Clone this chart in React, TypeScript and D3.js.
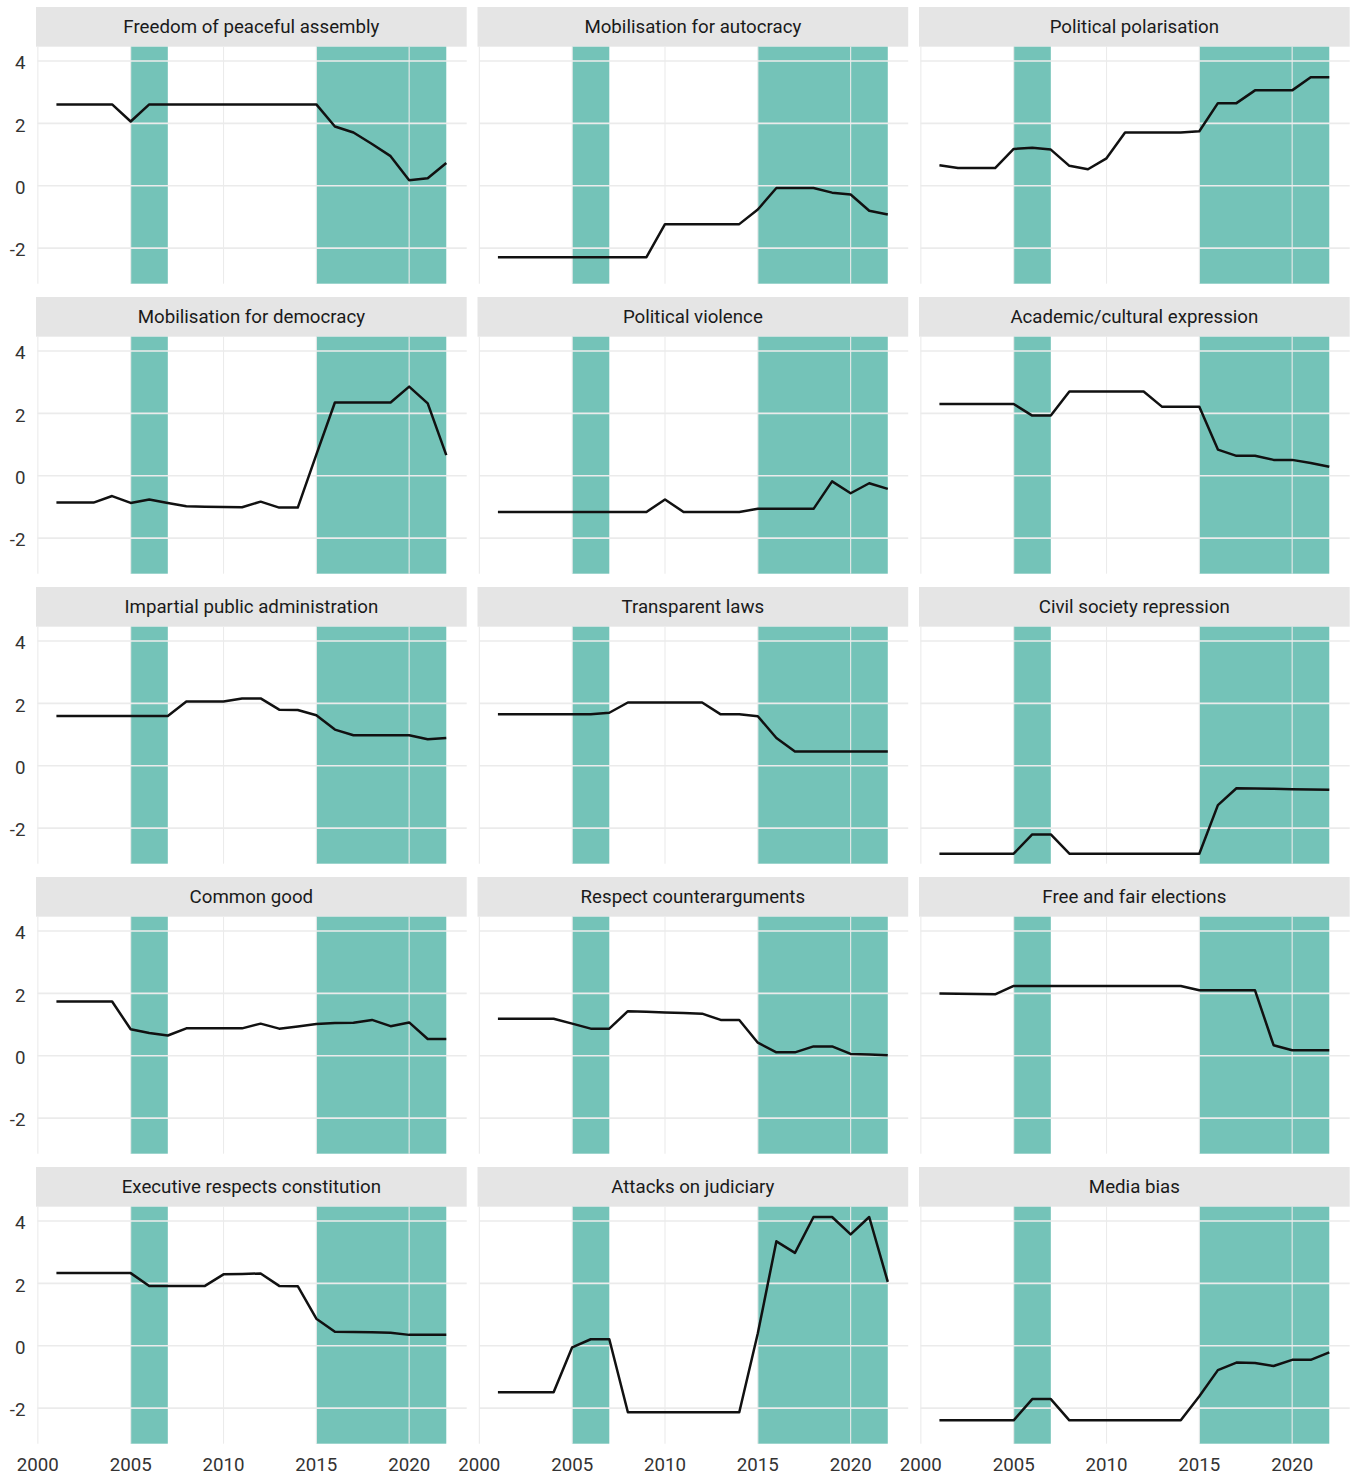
import React from 'react';
import * as d3 from 'd3';

const YEARS = [2001, 2002, 2003, 2004, 2005, 2006, 2007, 2008, 2009, 2010, 2011, 2012, 2013, 2014, 2015, 2016, 2017, 2018, 2019, 2020, 2021, 2022];

const PANEL_TITLES = [
  'Freedom of peaceful assembly', 'Mobilisation for autocracy', 'Political polarisation',
  'Mobilisation for democracy', 'Political violence', 'Academic/cultural expression',
  'Impartial public administration', 'Transparent laws', 'Civil society repression',
  'Common good', 'Respect counterarguments', 'Free and fair elections',
  'Executive respects constitution', 'Attacks on judiciary', 'Media bias',
];

const freedomAssembly = [2.61, 2.61, 2.61, 2.61, 2.06, 2.61, 2.61, 2.61, 2.61, 2.61, 2.61, 2.61, 2.61, 2.61, 2.61, 1.90, 1.71, 1.34, 0.95, 0.18, 0.24, 0.73];
const mobAutocracy = [-2.29, -2.29, -2.29, -2.29, -2.29, -2.29, -2.29, -2.29, -2.29, -1.23, -1.23, -1.23, -1.23, -1.23, -0.76, -0.07, -0.07, -0.07, -0.22, -0.28, -0.80, -0.92];
const polarisation = [0.66, 0.57, 0.57, 0.57, 1.18, 1.22, 1.16, 0.64, 0.53, 0.88, 1.71, 1.71, 1.71, 1.71, 1.75, 2.65, 2.65, 3.06, 3.06, 3.06, 3.48, 3.48];
const mobDemocracy = [-0.86, -0.86, -0.86, -0.65, -0.87, -0.76, -0.87, -0.98, -0.99, -1.00, -1.01, -0.83, -1.02, -1.02, 0.68, 2.35, 2.35, 2.35, 2.35, 2.86, 2.32, 0.66];
const politicalViolence = [-1.16, -1.16, -1.16, -1.16, -1.16, -1.16, -1.16, -1.16, -1.16, -0.76, -1.16, -1.16, -1.16, -1.16, -1.06, -1.06, -1.06, -1.06, -0.18, -0.56, -0.24, -0.42];
const academicExpression = [2.30, 2.30, 2.30, 2.30, 2.30, 1.93, 1.93, 2.70, 2.70, 2.70, 2.70, 2.70, 2.21, 2.21, 2.21, 0.84, 0.64, 0.64, 0.51, 0.51, 0.41, 0.29];
const impartialAdmin = [1.60, 1.60, 1.60, 1.60, 1.60, 1.60, 1.60, 2.06, 2.06, 2.06, 2.16, 2.16, 1.80, 1.79, 1.62, 1.16, 0.98, 0.98, 0.98, 0.98, 0.85, 0.89];
const transparentLaws = [1.65, 1.65, 1.65, 1.65, 1.65, 1.65, 1.70, 2.03, 2.03, 2.03, 2.03, 2.03, 1.65, 1.65, 1.59, 0.89, 0.46, 0.46, 0.46, 0.46, 0.46, 0.46];
const civilRepression = [-2.82, -2.82, -2.82, -2.82, -2.82, -2.20, -2.20, -2.82, -2.82, -2.82, -2.82, -2.82, -2.82, -2.82, -2.82, -1.26, -0.72, -0.73, -0.74, -0.75, -0.76, -0.77];
const commonGood = [1.74, 1.74, 1.74, 1.74, 0.85, 0.73, 0.65, 0.88, 0.88, 0.88, 0.88, 1.03, 0.87, 0.94, 1.02, 1.05, 1.06, 1.15, 0.95, 1.07, 0.54, 0.54];
const respectCounter = [1.19, 1.19, 1.19, 1.19, 1.03, 0.87, 0.87, 1.43, 1.41, 1.39, 1.37, 1.35, 1.15, 1.15, 0.42, 0.11, 0.11, 0.30, 0.30, 0.06, 0.04, 0.02];
const freeElections = [2.00, 1.99, 1.98, 1.97, 2.24, 2.24, 2.24, 2.24, 2.24, 2.24, 2.24, 2.24, 2.24, 2.24, 2.10, 2.10, 2.10, 2.10, 0.34, 0.18, 0.18, 0.18];
const execConstitution = [2.33, 2.33, 2.33, 2.33, 2.33, 1.92, 1.92, 1.92, 1.92, 2.29, 2.30, 2.32, 1.92, 1.91, 0.87, 0.45, 0.44, 0.43, 0.42, 0.35, 0.35, 0.35];
const attacksJudiciary = [-1.49, -1.49, -1.49, -1.49, -0.05, 0.21, 0.21, -2.13, -2.13, -2.13, -2.13, -2.13, -2.13, -2.13, 0.40, 3.35, 2.98, 4.13, 4.13, 3.57, 4.13, 2.05];
const mediaBias = [-2.39, -2.39, -2.39, -2.39, -2.39, -1.71, -1.71, -2.39, -2.39, -2.39, -2.39, -2.39, -2.39, -2.39, -1.62, -0.78, -0.54, -0.55, -0.65, -0.45, -0.45, -0.21];

const PANEL_VALUES = [
  freedomAssembly, mobAutocracy, polarisation,
  mobDemocracy, politicalViolence, academicExpression,
  impartialAdmin, transparentLaws, civilRepression,
  commonGood, respectCounter, freeElections,
  execConstitution, attacksJudiciary, mediaBias,
];

const SHADED_PERIODS = [[2005, 2007], [2015, 2022]];
const X_TICKS = [2000, 2005, 2010, 2015, 2020];
const Y_TICKS = [-2, 0, 2, 4];

const FONT = 'Roboto, "Noto Sans", sans-serif';

export default function App() {
  React.useLayoutEffect(() => {
    document.body.style.margin = '0';
  }, []);

  const W = 1357;
  const H = 1476;
  const colLeft = [36, 477.5, 919];
  const panelW = 430.7;
  const rowTop0 = 7;
  const rowPitch = 290;
  const stripH = 39.7;
  const plotH = 237;

  const x = d3.scaleLinear().domain([1999.9, 2023.1]).range([0, panelW]);
  const y = d3.scaleLinear().domain([-3.14, 4.46]).range([plotH, 0]);
  const line = d3.line<number>().x((_, i) => x(YEARS[i])).y((d) => y(d));

  return (
    <svg width={W} height={H} style={{ display: 'block', background: '#fff' }} fontFamily={FONT}>
      {PANEL_TITLES.map((title, p) => {
        const r = Math.floor(p / 3);
        const c = p % 3;
        const left = colLeft[c];
        const top = rowTop0 + r * rowPitch;
        const plotTop = top + stripH;
        return (
          <g key={title}>
            <rect x={left} y={top} width={panelW} height={stripH} fill="#E5E5E5" />
            <text x={left + panelW / 2} y={top + stripH / 2} dy="0.35em" textAnchor="middle" fontSize={18.7} fill="#1A1A1A">
              {title}
            </text>
            <g transform={`translate(${left},${plotTop})`}>
              {SHADED_PERIODS.map(([a, b]) => (
                <rect key={a} x={x(a)} y={0} width={x(b) - x(a)} height={plotH} fill="#74C3B8" />
              ))}
              {Y_TICKS.map((t) => (
                <line key={'h' + t} x1={1.5} x2={panelW} y1={y(t)} y2={y(t)} stroke="#EBEBEB" strokeWidth={1.6} />
              ))}
              {X_TICKS.map((t) => (
                <line key={'v' + t} x1={x(t)} x2={x(t)} y1={0} y2={plotH} stroke="#EBEBEB" strokeWidth={1.1} />
              ))}
              <path d={line(PANEL_VALUES[p]) || ''} fill="none" stroke="#111" strokeWidth={2.5} strokeLinejoin="round" />
              {c === 0 &&
                Y_TICKS.map((t) => (
                  <text key={'yl' + t} x={-10.5} y={y(t) + 1.6} dy="0.36em" textAnchor="end" fontSize={18.7} fill="#333">
                    {t}
                  </text>
                ))}
              {r === 4 &&
                X_TICKS.map((t) => (
                  <text key={'xl' + t} x={x(t)} y={plotH + 27.8} textAnchor="middle" fontSize={18.7} fill="#333">
                    {t}
                  </text>
                ))}
            </g>
          </g>
        );
      })}
    </svg>
  );
}
